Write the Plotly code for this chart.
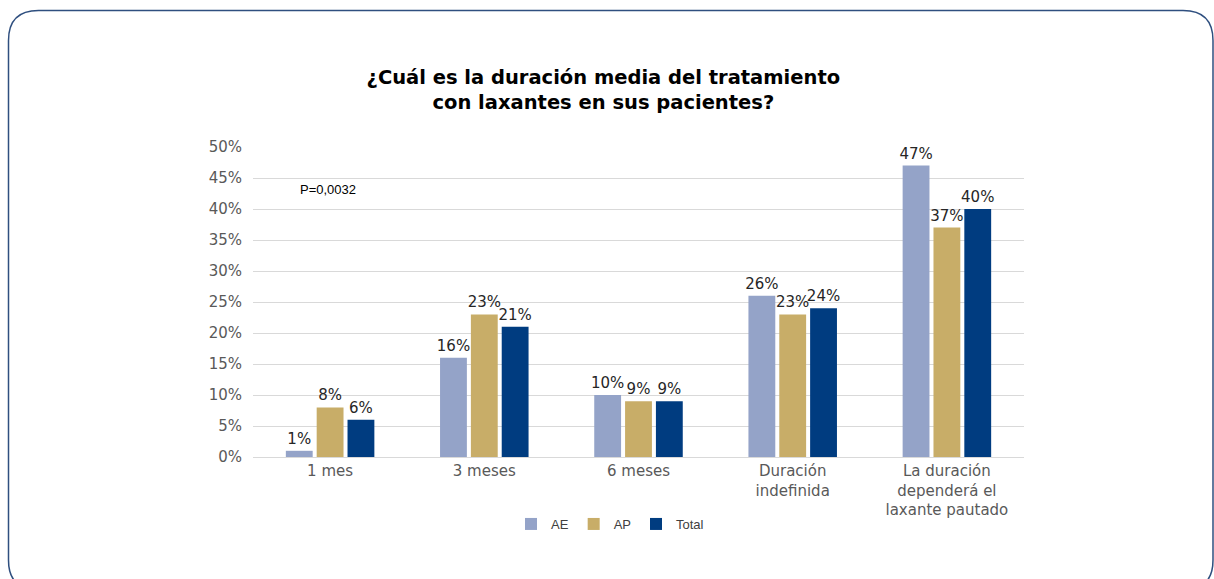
import plotly.graph_objects as go

# Survey results: mean duration of laxative treatment
categories = ["1 mes", "3 meses", "6 meses", "Duración<br>indefinida",
              "La duración<br>dependerá el<br>laxante pautado"]
ae_values = [1, 16, 10, 26, 47]
ap_values = [8, 23, 9, 23, 37]
total_values = [6, 21, 9, 24, 40]
series_names = ["AE", "AP", "Total"]
series_colors = ["#94A3C8", "#C8AD68", "#003C80"]
y_ticks = [0, 5, 10, 15, 20, 25, 30, 35, 40, 45, 50]
y_tick_labels = [f"{v}%" for v in y_ticks]

W, H = 1214, 579
M_L, M_R, M_T, M_B = 253, 190, 147, 122
plot_w = W - M_L - M_R
plot_h = H - M_T - M_B


def px_x(px):
    return (px - M_L) / plot_w


def px_y(py):
    return (H - M_B - py) / plot_h


fig = go.Figure()
for name, vals, col in zip(series_names, [ae_values, ap_values, total_values], series_colors):
    fig.add_trace(go.Bar(
        x=categories, y=vals, name=name,
        marker=dict(color=col, line=dict(width=0)),
        text=[f"{v}%" for v in vals], textposition="outside",
        constraintext="none",
        textfont=dict(family="DejaVu Sans", size=15, color="#262626"),
        cliponaxis=False,
    ))

# rounded frame around the whole figure
x0, x1 = px_x(8.5), px_x(1213)
y0, y1 = px_y(590), px_y(10.5)
rx = 30 / plot_w
ry = 30 / plot_h
frame = (f"M {x0} {y1 - ry} Q {x0} {y1} {x0 + rx} {y1} "
         f"L {x1 - rx} {y1} Q {x1} {y1} {x1} {y1 - ry} "
         f"L {x1} {y0 + ry} Q {x1} {y0} {x1 - rx} {y0} "
         f"L {x0 + rx} {y0} Q {x0} {y0} {x0} {y0 + ry} Z")
fig.add_shape(type="path", path=frame, xref="paper", yref="paper",
              line=dict(color="#2F4F7F", width=1.5), layer="above")

fig.add_annotation(text="P=0,0032", x=px_x(298), y=43.1, xref="paper", yref="y",
                   xanchor="left", yanchor="middle", showarrow=False,
                   font=dict(family="Liberation Sans", size=13, color="#000000"))

fig.update_layout(
    width=W, height=H,
    margin=dict(l=M_L, r=M_R, t=M_T, b=M_B),
    paper_bgcolor="white", plot_bgcolor="white",
    barmode="group", bargap=0.40, bargroupgap=0.13,
    title=dict(text="¿Cuál es la duración media del tratamiento<br>con laxantes en sus pacientes?",
               x=0.497, xanchor="center", y=0.855, yanchor="top",
               font=dict(family="DejaVu Sans", size=19.5, color="#000000", weight="bold")),
    showlegend=True,
    legend=dict(orientation="h", x=px_x(610), xanchor="center", y=px_y(524), yanchor="middle",
                font=dict(family="Liberation Sans", size=13, color="#404040"),
                itemwidth=30, traceorder="normal"),
    xaxis=dict(showgrid=False, showline=True, linecolor="#D9D9D9", linewidth=1,
               tickfont=dict(family="DejaVu Sans", size=15, color="#595959"),
               ticks=""),
    yaxis=dict(range=[0, 50], tickvals=y_ticks, ticktext=y_tick_labels,
               showgrid=True, gridcolor="#D9D9D9", gridwidth=1, zeroline=False,
               showline=False, ticks="", ticklabelstandoff=10,
               tickfont=dict(family="DejaVu Sans", size=15, color="#595959")),
)

fig.write_html("out.html")
